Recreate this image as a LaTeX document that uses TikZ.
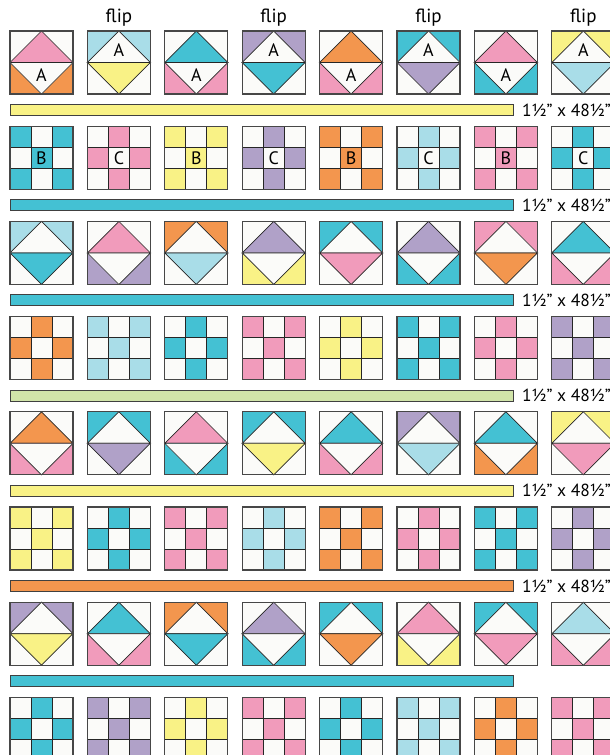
\documentclass[tikz,border=0pt]{standalone}
\usepackage{fontspec}
\setmainfont{PT Sans}
\usepackage{tikz}
\usetikzlibrary{positioning}
\definecolor{qltPink}{HTML}{F19BBB}
\definecolor{qltOrange}{HTML}{F3964E}
\definecolor{qltTeal}{HTML}{44C1D3}
\definecolor{qltSky}{HTML}{A9DDE8}
\definecolor{qltLilac}{HTML}{B0A1C8}
\definecolor{qltLemon}{HTML}{F9F286}
\definecolor{qltSage}{HTML}{D1E4A9}
\definecolor{qltWhite}{HTML}{FBFBF9}
\tikzset{
  seam/.style={draw=black!85,line width=0.7pt},
  blockedge/.style={draw=black!72,line width=1.1pt},
  sashing/.style={draw=black!75,line width=0.9pt,minimum width=503pt,
    minimum height=11pt,inner sep=0pt,anchor=north west},
  cutsize/.style={font=\fontsize{17.5}{20}\selectfont,inner sep=0pt},
  fliptag/.style={font=\fontsize{19}{22}\selectfont,anchor=base,inner sep=0pt},
  unitletter/.style={font=\fontsize{18}{21}\selectfont,inner sep=0pt}
}
% flying geese block: corner, top goose/corners, bottom goose/corners
\newcommand{\geeseblock}[6]{%
  \begin{scope}[shift={(#1,#2)}]
    \fill[#4] (0,0) rectangle (63,31.5);
    \filldraw[seam,fill=#3] (0,31.5) -- (31.5,0) -- (63,31.5) -- cycle;
    \fill[#6] (0,31.5) rectangle (63,63);
    \filldraw[seam,fill=#5] (0,31.5) -- (31.5,63) -- (63,31.5) -- cycle;
    \draw[blockedge] (0,0) rectangle (63,63);
  \end{scope}}
\newcommand{\geeseN}[4]{\geeseblock{#1}{#2}{#3}{qltWhite}{qltWhite}{#4}}
\newcommand{\geeseF}[4]{\geeseblock{#1}{#2}{qltWhite}{#3}{#4}{qltWhite}}
% nine patch block
\newcommand{\crosscells}{0/0,2/0,1/1,0/2,2/2}
\newcommand{\pluscells}{1/0,0/1,2/1,1/2}
\newcommand{\ninepatch}[4]{%
  \begin{scope}[shift={(#1,#2)}]
    \fill[qltWhite] (0,0) rectangle (63,63);
    \foreach \cx/\cy in #4 {\fill[#3] (21*\cx,21*\cy) rectangle ++(21,21);}
    \foreach \k in {21,42} {\draw[seam] (\k,0) -- (\k,63); \draw[seam] (0,\k) -- (63,\k);}
    \draw[blockedge] (0,0) rectangle (63,63);
  \end{scope}}
\newcommand{\ninex}[3]{\ninepatch{#1}{#2}{#3}{\crosscells}}
\newcommand{\nineplus}[3]{\ninepatch{#1}{#2}{#3}{\pluscells}}

\begin{document}
\begin{tikzpicture}[x=1pt,y=-1pt]
  \fill[white] (0,0) rectangle (610,755);
  \useasboundingbox (0,0) rectangle (610,755);

  % geese rows
  \foreach \blk/\ca/\cb [count=\c from 0] in {\geeseN/qltPink/qltOrange,\geeseF/qltSky/qltLemon,
      \geeseN/qltTeal/qltPink,\geeseF/qltLilac/qltTeal,\geeseN/qltOrange/qltPink,
      \geeseF/qltTeal/qltLilac,\geeseN/qltPink/qltTeal,\geeseF/qltLemon/qltSky}
    {\blk{10+77.4*\c}{31}{\ca}{\cb}}
  \foreach \blk/\ca/\cb [count=\c from 0] in {\geeseF/qltSky/qltTeal,\geeseN/qltPink/qltLilac,
      \geeseF/qltOrange/qltSky,\geeseN/qltLilac/qltLemon,\geeseF/qltTeal/qltPink,
      \geeseN/qltLilac/qltTeal,\geeseF/qltPink/qltOrange,\geeseN/qltTeal/qltPink}
    {\blk{10+77.4*\c}{221.4}{\ca}{\cb}}
  \foreach \blk/\ca/\cb [count=\c from 0] in {\geeseN/qltOrange/qltPink,\geeseF/qltTeal/qltLilac,
      \geeseN/qltPink/qltTeal,\geeseF/qltTeal/qltLemon,\geeseN/qltTeal/qltPink,
      \geeseF/qltLilac/qltSky,\geeseN/qltTeal/qltOrange,\geeseF/qltLemon/qltPink}
    {\blk{10+77.4*\c}{411.8}{\ca}{\cb}}
  \foreach \blk/\ca/\cb [count=\c from 0] in {\geeseF/qltLilac/qltLemon,\geeseN/qltTeal/qltPink,
      \geeseF/qltOrange/qltTeal,\geeseN/qltLilac/qltTeal,\geeseF/qltTeal/qltOrange,
      \geeseN/qltPink/qltLemon,\geeseF/qltTeal/qltPink,\geeseN/qltSky/qltPink}
    {\blk{10+77.4*\c}{602.2}{\ca}{\cb}}

  % nine patch rows
  \foreach \blk/\ca [count=\c from 0] in {\ninex/qltTeal,\nineplus/qltPink,\ninex/qltLemon,
      \nineplus/qltLilac,\ninex/qltOrange,\nineplus/qltSky,\ninex/qltPink,\nineplus/qltTeal}
    {\blk{10+77.4*\c}{126.2}{\ca}}
  \foreach \blk/\ca [count=\c from 0] in {\nineplus/qltOrange,\ninex/qltSky,\nineplus/qltTeal,
      \ninex/qltPink,\nineplus/qltLemon,\ninex/qltTeal,\nineplus/qltPink,\ninex/qltLilac}
    {\blk{10+77.4*\c}{316.6}{\ca}}
  \foreach \blk/\ca [count=\c from 0] in {\ninex/qltLemon,\nineplus/qltTeal,\ninex/qltPink,
      \nineplus/qltSky,\ninex/qltOrange,\nineplus/qltPink,\ninex/qltTeal,\nineplus/qltLilac}
    {\blk{10+77.4*\c}{507}{\ca}}
  \foreach \blk/\ca [count=\c from 0] in {\nineplus/qltTeal,\ninex/qltLilac,\nineplus/qltLemon,
      \ninex/qltPink,\nineplus/qltTeal,\ninex/qltSky,\nineplus/qltOrange,\ninex/qltPink}
    {\blk{10+77.4*\c}{697.4}{\ca}}

  % unit letters
  \foreach \c in {0,2,4,6} {
    \node[unitletter] (a\c) at (41.5+77.4*\c,75) {A};
    \node[unitletter] (b\c) at (41.5+77.4*\c,157.7) {B};
  }
  \foreach \c in {1,3,5,7} {
    \node[unitletter] (a\c) at (41.5+77.4*\c,50) {A};
    \node[unitletter] (c\c) at (41.5+77.4*\c,157.7) {C};
    \node[fliptag] (flip\c) at (41.5+77.4*\c,22) {flip};
  }

  % sashing strips
  \foreach \col [count=\s from 0] in {qltLemon,qltTeal,qltTeal,qltSage,qltLemon,qltOrange,qltTeal}
    \node[sashing,fill=\col] (strip\s) at (10,104+95.2*\s) {};
  \foreach \s in {0,...,5}
    \node[cutsize,right=8pt of strip\s] (size\s) {1½" x 48½"};
\end{tikzpicture}
\end{document}
